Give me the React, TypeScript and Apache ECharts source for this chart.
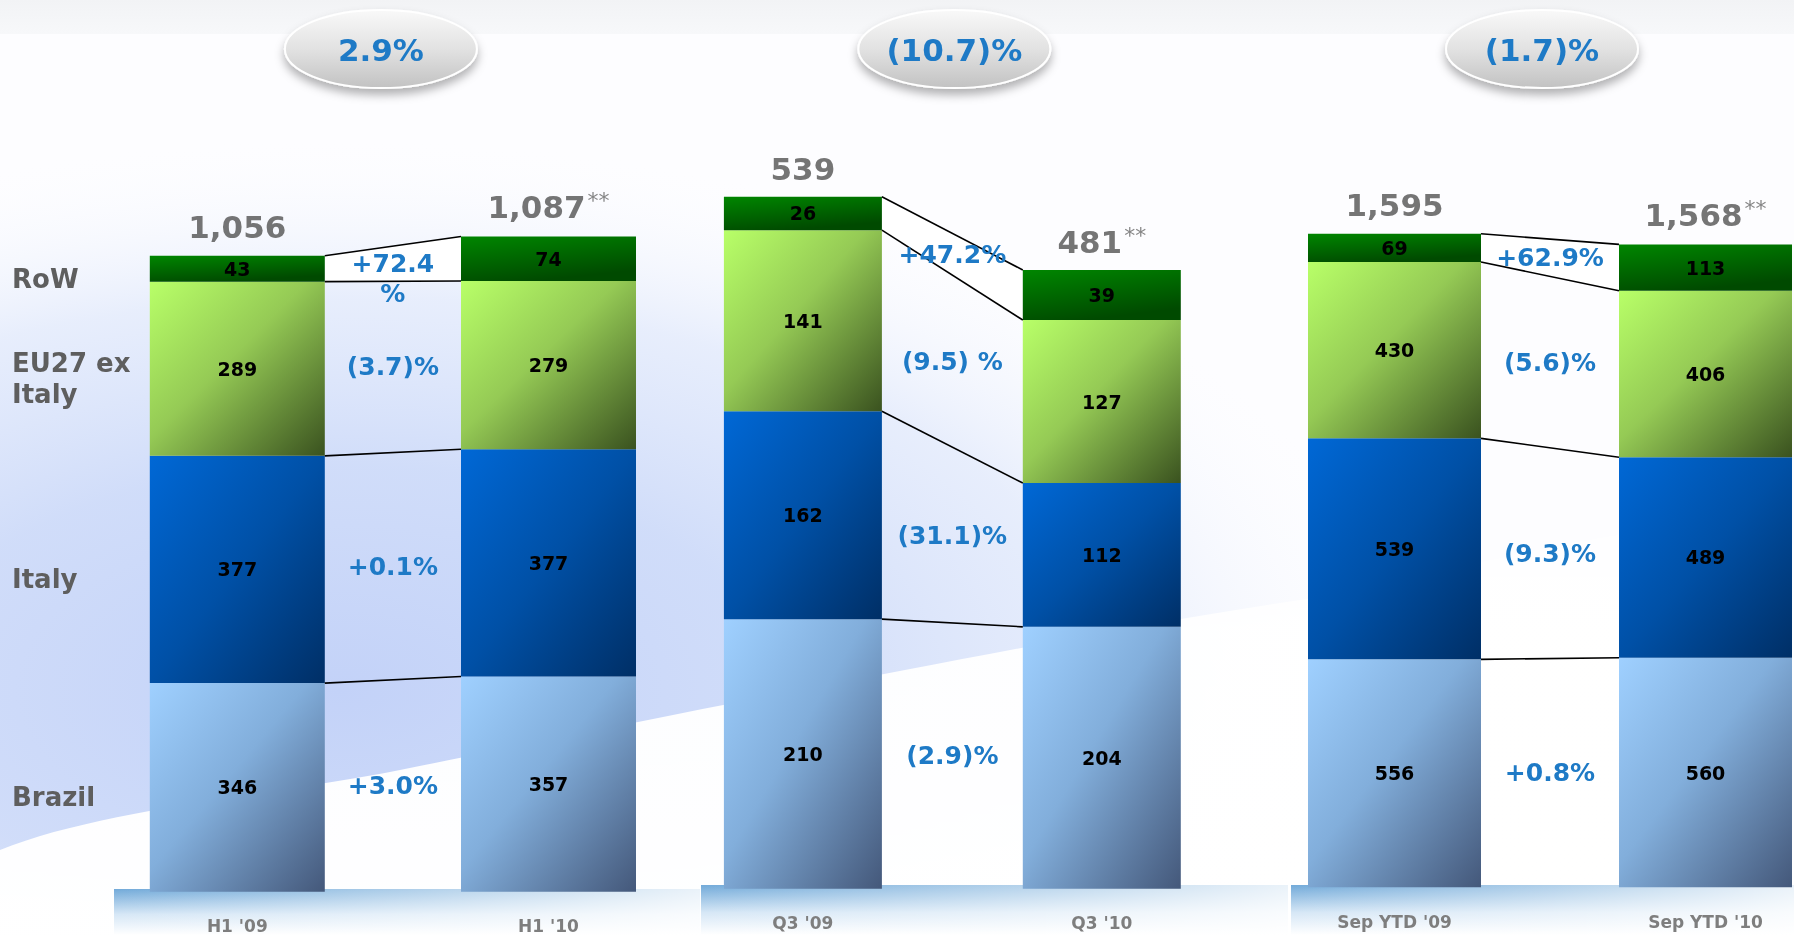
import React, { useEffect, useRef } from 'react';
import * as echarts from 'echarts';

// ---------- data ----------
const segmentNames = ['Brazil', 'Italy', 'EU27 ex\nItaly', 'RoW'];
const panelCategories = [
  ["H1 '09", "H1 '10"],
  ["Q3 '09", "Q3 '10"],
  ["Sep YTD '09", "Sep YTD '10"],
];
// [before, after] per panel
const brazil = [[346, 357], [210, 204], [556, 560]];
const italy = [[377, 377], [162, 112], [539, 489]];
const eu27 = [[289, 279], [141, 127], [430, 406]];
const rowWorld = [[43, 74], [26, 39], [69, 113]];
const totals = [[1056, 1087], [539, 481], [1595, 1568]];
const totalNotes = ['', '**'];
const segmentChanges = [
  ['+3.0%', '+0.1%', '(3.7)%', '+72.4\n%'],
  ['(2.9)%', '(31.1)%', '(9.5) %', '+47.2%'],
  ['+0.8%', '(9.3)%', '(5.6)%', '+62.9%'],
];
const totalChanges = ['2.9%', '(10.7)%', '(1.7)%'];
const axisMax = [1100, 600, 1700];

// ---------- layout (grid spans bar centre to bar centre) ----------
const layout = [
  { left: 237.3, width: 311.2, top: 228.6, bottom: 43.3, barWidth: 175, ovalDx: -12 },
  { left: 802.9, width: 298.9, top: 118.5, bottom: 46.3, barWidth: 158, ovalDx: 2 },
  { left: 1394.5, width: 311, top: 190.3, bottom: 47.7, barWidth: 173, ovalDx: -8 },
];

const FONT = '"DejaVu Sans", Verdana, sans-serif';
const BLUE = '#1e7ac6';

const lg = (x2: number, y2: number, stops: [number, string][]) =>
  new echarts.graphic.LinearGradient(0, 0, x2, y2, stops.map(([offset, color]) => ({ offset, color })));

function segColor(s: number) {
  if (s === 0) return lg(1, 1, [[0, '#9fd0ff'], [0.45, '#82aedb'], [1, '#44587a']]);
  if (s === 1) return lg(1, 1, [[0, '#0068d6'], [0.5, '#0050a6'], [1, '#002f66']]);
  if (s === 2) return lg(1, 1, [[0, '#b8ff68'], [0.45, '#95ca55'], [1, '#3a521f']]);
  return lg(0.4, 1, [[0, '#008600'], [1, '#004a00']]);
}

function buildOption() {
  const segs = [brazil, italy, eu27, rowWorld];
  const grids = layout.map((L) => ({ left: L.left, width: L.width, top: L.top, bottom: L.bottom }));
  const xAxes = layout.map((_, p) => ({
    type: 'category',
    gridIndex: p,
    z: 6,
    boundaryGap: false,
    data: panelCategories[p],
    axisLine: { show: false },
    axisTick: { show: false },
    splitLine: { show: false },
    axisLabel: { interval: 0, margin: 26, color: '#7e7e7e', fontSize: 17, fontWeight: 'bold', fontFamily: FONT },
  }));
  const yAxes = layout.map((_, p) => ({
    type: 'value', gridIndex: p, min: 0, max: axisMax[p], show: false, splitLine: { show: false },
  }));

  const series: any[] = [];
  layout.forEach((L, p) => {
    const before = segs.map((a) => a[p][0]);
    const after = segs.map((a) => a[p][1]);
    const cumB: number[] = [];
    const cumA: number[] = [];
    before.reduce((acc, v, i) => ((cumB[i] = acc + v), acc + v), 0);
    after.reduce((acc, v, i) => ((cumA[i] = acc + v), acc + v), 0);
    const midB = before.map((v, i) => cumB[i] - v / 2);
    const midA = after.map((v, i) => cumA[i] - v / 2);
    const half = L.barWidth / 2;

    segs.forEach((arr, s) => {
      series.push({
        type: 'bar',
        name: segmentNames[s],
        stack: 'p' + p,
        xAxisIndex: p,
        yAxisIndex: p,
        barWidth: L.barWidth,
        clip: false,
        z: 3,
        data: [arr[p][0], arr[p][1]],
        itemStyle: { color: segColor(s) },
        label: { show: true, position: 'inside', color: '#000', fontWeight: 'bold', fontSize: 19, fontFamily: FONT },
      });
    });

    // white fill between top line and RoW boundary
    series.push({
      type: 'custom', xAxisIndex: p, yAxisIndex: p, z: 2, silent: true, clip: false,
      encode: { x: 0, y: 1 },
      data: [[0, cumB[2], cumB[3], cumA[2], cumA[3]]],
      renderItem: (_: any, api: any) => {
        const a1 = api.coord([0, api.value(1)]);
        const a2 = api.coord([0, api.value(2)]);
        const b1 = api.coord([1, api.value(3)]);
        const b2 = api.coord([1, api.value(4)]);
        return {
          type: 'polygon',
          shape: { points: [[a1[0] + half, a1[1]], [a2[0] + half, a2[1]], [b2[0] - half, b2[1]], [b1[0] - half, b1[1]]] },
          style: { fill: '#ffffff' },
        };
      },
    });

    // connector lines
    series.push({
      type: 'custom', xAxisIndex: p, yAxisIndex: p, z: 4, silent: true, clip: false,
      encode: { x: 0, y: 1 },
      data: cumB.map((v, k) => [0, v, cumA[k]]),
      renderItem: (_: any, api: any) => {
        const a = api.coord([0, api.value(1)]);
        const b = api.coord([1, api.value(2)]);
        return {
          type: 'line',
          shape: { x1: a[0] + half, y1: a[1], x2: b[0] - half, y2: b[1] },
          style: { stroke: '#000', lineWidth: 1.6 },
        };
      },
    });

    // change labels
    series.push({
      type: 'custom', xAxisIndex: p, yAxisIndex: p, z: 5, silent: true, clip: false,
      encode: { x: 0, y: 1 },
      data: midB.map((v, k) => [0, (v + midA[k]) / 2]),
      renderItem: (params: any, api: any) => {
        const c0 = api.coord([0, api.value(1)]);
        const c1 = api.coord([1, api.value(1)]);
        const x = (c0[0] + c1[0]) / 2;
        const txt = segmentChanges[p][params.dataIndex];
        const multi = txt.indexOf('\n') >= 0;
        return {
          type: 'text',
          x,
          y: multi ? c0[1] - 15 : c0[1],
          style: {
            text: txt, fill: BLUE, fontSize: 25, fontWeight: 'bold', fontFamily: FONT, lineHeight: 30,
            align: 'center', verticalAlign: multi ? 'top' : 'middle',
          },
        };
      },
    });

    // totals above bars
    series.push({
      type: 'scatter', xAxisIndex: p, yAxisIndex: p, z: 5, silent: true, clip: false,
      symbolSize: 1,
      itemStyle: { color: 'rgba(0,0,0,0)' },
      data: [[0, totals[p][0]], [1, totals[p][1]]],
      label: {
        show: true, position: 'top', distance: 12,
        formatter: (prm: any) => {
          const i = prm.dataIndex;
          const v = totals[p][i].toLocaleString('en-US');
          return totalNotes[i] ? `{v|${v}}{s|${totalNotes[i]}}` : `{v|${v}}`;
        },
        rich: {
          v: { fontSize: 31, fontWeight: 'bold', color: '#535353', fontFamily: FONT },
          s: { fontSize: 22, color: '#666666', fontFamily: FONT, verticalAlign: 'top', padding: [0, 0, 12, 2] },
        },
      },
    });

    // oval with total change
    series.push({
      type: 'custom', xAxisIndex: p, yAxisIndex: p, z: 5, silent: true, clip: false,
      encode: { x: 0, y: 1 },
      data: [[0, 0]],
      renderItem: (_: any, api: any) => {
        const c0 = api.coord([0, 0]);
        const c1 = api.coord([1, 0]);
        const cx = (c0[0] + c1[0]) / 2 + L.ovalDx;
        return {
          type: 'group',
          children: [
            {
              type: 'ellipse',
              shape: { cx, cy: 49, rx: 96, ry: 39 },
              style: {
                fill: lg(0, 1, [[0, '#f9f9f9'], [0.5, '#e2e2e2'], [1, '#c2c2c2']]),
                stroke: '#ffffff', lineWidth: 2,
                shadowBlur: 10, shadowOffsetY: 6, shadowColor: 'rgba(0,0,0,0.3)',
              },
            },
            {
              type: 'text', x: cx, y: 50,
              style: { text: totalChanges[p], fill: BLUE, fontSize: 31, fontWeight: 'bold', fontFamily: FONT, align: 'center', verticalAlign: 'middle' },
            },
          ],
        };
      },
    });

    if (p === 0) {
      series.push({
        type: 'custom', xAxisIndex: p, yAxisIndex: p, z: 5, silent: true, clip: false,
        encode: { x: 0, y: 1 },
        data: midB.map((v) => [0, v]),
        renderItem: (params: any, api: any) => {
          const c = api.coord([0, api.value(1)]);
          return {
            type: 'text', x: 12, y: c[1] + 10,
            style: {
              text: segmentNames[params.dataIndex], fill: '#5e5e5e', fontSize: 26, fontWeight: 'bold',
              fontFamily: FONT, lineHeight: 31, align: 'left', verticalAlign: 'middle',
            },
          };
        },
      });
    }
  });

  const bandFill = lg(0, 1, [[0, '#72aad9'], [0.55, '#d6e7f6'], [1, '#ffffff']]);
  const bandFade = new echarts.graphic.LinearGradient(0, 0, 1, 0, [
    { offset: 0, color: 'rgba(255,255,255,0)' },
    { offset: 1, color: 'rgba(255,255,255,0.85)' },
  ]);
  const bands = [[114, 889, 586], [701, 885, 587], [1291, 885, 503]];

  const graphic: any[] = [
    { type: 'rect', z: -10, shape: { x: 0, y: 0, width: 1794, height: 935 }, style: { fill: '#fdfdff' } },
    {
      type: 'rect', z: -9, x: 340, y: 690, scaleX: 2.2, scaleY: 1.12,
      shape: { x: -500, y: -500, width: 1000, height: 1000 },
      style: {
        fill: new echarts.graphic.RadialGradient(0.5, 0.5, 0.5, [
          { offset: 0, color: 'rgba(195,210,248,1)' },
          { offset: 0.4, color: 'rgba(206,219,249,0.95)' },
          { offset: 0.7, color: 'rgba(222,231,251,0.7)' },
          { offset: 1, color: 'rgba(255,255,255,0)' },
        ]),
      },
    },
    {
      type: 'polygon', z: -8,
      shape: { points: [[0, 850], [400, 770], [800, 690], [1300, 600], [1794, 545], [1794, 935], [0, 935]], smooth: 0.3 },
      style: {
        fill: lg(0, 1, [[0, 'rgba(255,255,255,0.55)'], [0.22, 'rgba(255,255,255,0.95)'], [1, '#ffffff']]),
      },
    },
    {
      type: 'rect', z: -7, shape: { x: 0, y: 0, width: 1794, height: 34 },
      style: { fill: lg(0, 1, [[0, '#f2f3f5'], [1, '#f7f8fa']]) },
    },
  ];
  bands.forEach(([x, y, w]) => {
    graphic.push({ type: 'rect', z: -5, shape: { x, y, width: w, height: 935 - y }, style: { fill: bandFill } });
    graphic.push({ type: 'rect', z: -5, shape: { x, y, width: w, height: 935 - y }, style: { fill: bandFade } });
  });

  return {
    animation: false,
    grid: grids,
    xAxis: xAxes,
    yAxis: yAxes,
    graphic,
    series,
  };
}

export default function App() {
  const ref = useRef<HTMLDivElement>(null);
  useEffect(() => {
    const chart = echarts.init(ref.current!, null, { renderer: 'svg' });
    chart.setOption(buildOption() as any);
    return () => chart.dispose();
  }, []);
  return <div ref={ref} style={{ position: 'fixed', left: 0, top: 0, width: 1794, height: 935 }} />;
}
